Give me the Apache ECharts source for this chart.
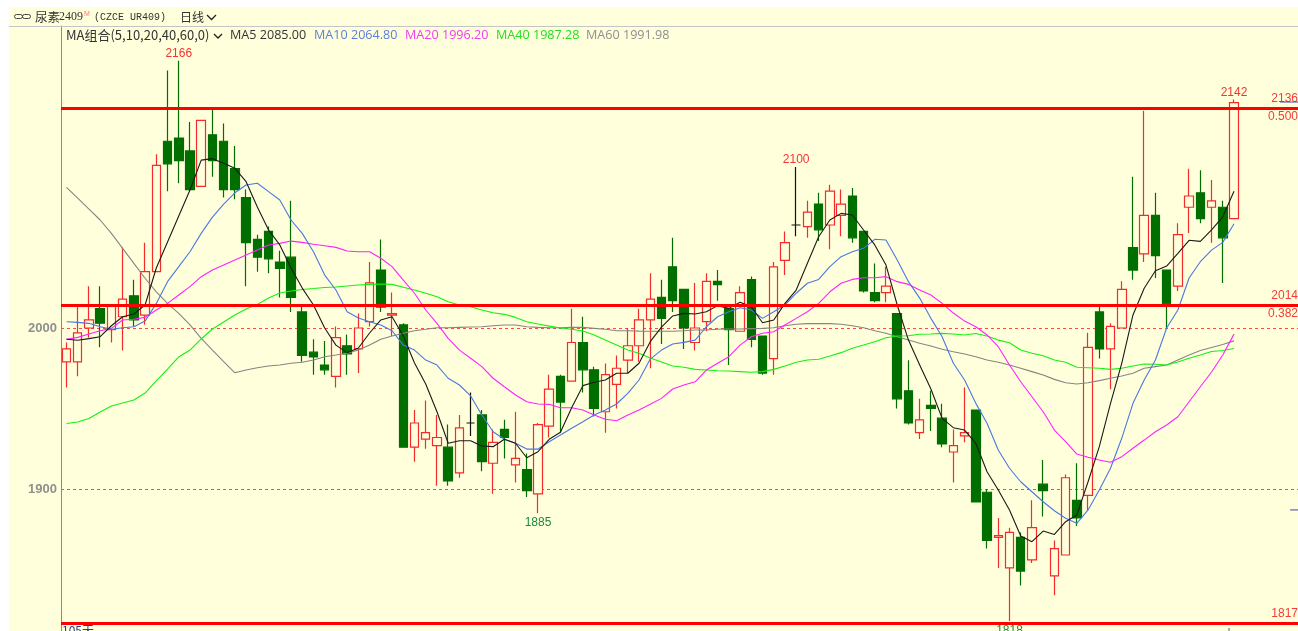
<!DOCTYPE html>
<html>
<head>
<meta charset="utf-8">
<title>尿素2409</title>
<style>
  html,body{margin:0;padding:0;background:#fff;}
  #kline{width:1298px;height:631px;}
</style>
<script src="https://cdn.jsdelivr.net/npm/echarts@6/dist/echarts.min.js"></script>
</head>
<body>
<div id="kline"></div>
<script>
var opens = [1979,1979,2000,2012,1999,2007,2020,2008,2035,2116,
  2118,2110,2088,2120,2116,2099,2081,2055,2060,2041,
  2044,2010,1985,1977,1970,1989,1987,2004,2036,2008,
  2002,1926,1931,1927,1926,1910,1941,1946,1916,1937,
  1915,1912,1897,1939,1970,1967,1991,1974,1948,1965,
  1980,1989,2005,2019,2038,2024,1991,2004,2029,2012,
  1998,2030,1995,1981,2042,2064,2063,2077,2064,2070,
  2082,2060,2022,2022,2009,1961,1935,1952,1944,1923,
  1933,1949,1898,1870,1851,1870,1856,1903,1846,1859,
  1893,1896,2010,1987,2000,2050,2046,2070,2036,2026,
  2075,2084,2075,2075,2068];
var closes = [1987,1997,2005,2003,2014,2018,2005,2035,2101,2102,
  2104,2086,2129,2104,2086,2086,2053,2044,2043,2037,
  2019,1983,1982,1974,1994,1984,2000,2028,2013,2009,
  1926,1941,1935,1932,1905,1938,1941,1917,1929,1932,
  1919,1899,1940,1962,1954,1991,1974,1950,1971,1975,
  1989,2005,2018,2006,2017,2000,2000,2029,2027,1999,
  2022,1993,1972,2038,2053,2064,2072,2061,2085,2077,
  2056,2023,2017,2026,1956,1941,1943,1950,1928,1927,
  1935,1892,1868,1871,1873,1849,1876,1899,1863,1907,
  1882,1988,1987,2001,2024,2036,2070,2045,2015,2058,
  2082,2068,2079,2056,2140];
var lows = [1963,1970,1994,1988,1991,1986,2001,2002,2035,2085,
  2090,2085,2088,2094,2081,2080,2026,2035,2034,2019,
  2010,1979,1971,1971,1963,1971,1972,2001,2010,1995,
  1926,1917,1925,1902,1902,1907,1933,1911,1897,1919,
  1904,1895,1885,1932,1935,1967,1960,1945,1935,1950,
  1972,1979,1975,1990,2010,1987,1986,1998,2017,1977,
  1998,1988,1971,1971,2033,2057,2056,2054,2049,2057,
  2053,2022,2016,2016,1950,1940,1931,1936,1926,1904,
  1929,1892,1863,1851,1818,1840,1854,1883,1834,1859,
  1877,1887,1981,1962,2000,2030,2041,2031,2000,2023,
  2059,2065,2053,2028,2068];
var highs = [1991,2014,2026,2026,2014,2050,2030,2053,2108,2160,
  2166,2128,2129,2136,2127,2113,2086,2058,2063,2048,
  2079,2014,1993,1992,2001,1996,2009,2041,2055,2022,
  2003,1949,1955,1946,1940,1946,1960,1949,1937,1943,
  1948,1922,1941,1971,1971,2012,2007,1976,1978,1983,
  2000,2012,2034,2030,2056,2024,2028,2034,2036,2012,
  2026,2032,1995,2041,2060,2100,2079,2084,2089,2086,
  2087,2060,2040,2038,2009,1980,1956,1961,1953,1937,
  1963,1949,1900,1882,1876,1873,1893,1918,1868,1909,
  1916,1997,2014,2003,2029,2094,2135,2084,2036,2065,
  2099,2098,2092,2079,2142];

var ma5 = [1993,1992.4,1993.4,1994.6,2001.4,2007,2008.7,2014.3,2037.3,2053.4,
  2069.6,2085.7,2104.3,2105.2,2102.3,2099.2,2090.9,2075.2,2060.9,2051.6,
  2037.3,2024.8,2014.3,2000,1989.4,1984.7,1987.6,1996.9,2005,2007,
  1995,1978.3,1965.2,1948,1928.4,1930,1930,1926.7,1926.3,1930.9,
  1928.4,1919.4,1923.2,1930.9,1935.2,1950.5,1964.2,1966.3,1967.7,1971.9,
  1971.9,1978.1,1991.5,2000.6,2007.5,2009.1,2008.7,2010.1,2013.9,2012.2,
  2016,2013.2,2003.3,2005,2015.3,2023.6,2040.2,2056.7,2067.1,2071.2,
  2070.2,2060.9,2051.6,2039.1,2014.3,1992.5,1977,1962.1,1943.9,1938.1,
  1936.6,1928.4,1910.7,1899.4,1887,1870.8,1867.3,1873.9,1871.8,1879.7,
  1883.9,1904.5,1926.3,1953.2,1978.1,2008.1,2024.7,2035.6,2038.5,2046.4,
  2054.5,2053.8,2060.9,2069.1,2085];
var ma10 = [2003.9,2003.5,2002.9,2000.8,1999.2,2000.2,2000.8,2004.3,2015.3,2028.8,
  2038.1,2047.4,2058.8,2068.9,2077,2084,2088.8,2089.9,2084.7,2079.5,
  2067.1,2058.8,2047.4,2032.9,2023.6,2010.1,2006.2,2003.9,2001.9,1998.3,
  1989.4,1986.3,1980.1,1977,1968.8,1964.6,1957.8,1946,1935.6,1930.9,
  1928.4,1924.8,1924.8,1929.4,1933.5,1937.7,1941.8,1946,1949.1,1952.8,
  1959.4,1967.7,1980.7,1986.3,1990.1,1991.1,1992.5,2000.8,2007,2010.1,
  2012.6,2011.2,2006,2010.1,2014.3,2021.6,2027.8,2030.2,2038.1,2044.3,
  2047.4,2049.5,2055.1,2054.7,2042.2,2028.8,2018.6,2006,1994.6,1978.1,
  1967.7,1953.2,1940.8,1924.2,1912.9,1904.5,1898.3,1892.1,1886.5,1881.8,
  1878.7,1887,1899.4,1912.9,1931.5,1953.2,1967.7,1980.1,2000,2011.2,
  2031.1,2041.2,2048.4,2053.2,2064.8];
var ma20 = [1993,1994.2,1996.3,1998.3,1999.8,2005,2005.4,2006.6,2011.2,2015.3,
  2020.5,2025.7,2031.9,2036,2039.1,2042.2,2045.3,2048.4,2051.6,2052.6,
  2054,2053.2,2052,2051.1,2050.1,2047.8,2047.4,2047.4,2043.3,2038.1,
  2029.8,2021.6,2011.2,2002.9,1993.6,1986.3,1981.2,1976,1968.8,1963.5,
  1958.4,1954.2,1952.8,1952.6,1950.5,1950.5,1949.1,1946,1943.3,1942.4,
  1946,1949.1,1952.6,1956.3,1962.1,1964.6,1966.6,1973.9,1978.1,1982.2,
  1989.4,1994.6,1996.7,1997.7,2001.9,2006,2010.1,2015.3,2022.5,2027.8,
  2030.2,2031.2,2031.2,2031.9,2028.8,2027.1,2023.6,2020.5,2015.3,2009.3,
  2004.3,2000.8,1995.7,1988.4,1977,1966.6,1957.3,1948,1936.6,1929.4,
  1921.7,1919.7,1918,1916.6,1920.1,1925.3,1930.4,1935.6,1939.8,1944.9,
  1954.2,1963.5,1972.7,1983.2,1996.2];
var ma40 = [1940.7,1941.6,1943.8,1947.8,1951.6,1953.4,1955.3,1959.6,1967.1,1974.5,
  1982,1986.3,1993.2,1999.4,2003.7,2008.1,2011.8,2014.6,2018.6,2021.7,
  2023,2023.9,2024.5,2025.2,2025.5,2026.1,2026.7,2027.1,2027.3,2027.1,
  2025.3,2023.6,2021.6,2019.4,2016.3,2014.3,2013.2,2011.2,2009.5,2008.5,
  2006.6,2003.9,2002.5,2001.2,2000,1999.2,1998.1,1995.7,1992.5,1989.4,
  1986.3,1984.3,1981.4,1978.9,1976.4,1975.6,1974.3,1973.9,1973.5,1973.3,
  1972.9,1972.5,1972.9,1974.3,1976.4,1978.7,1980.1,1980.6,1982.6,1984.7,
  1987.4,1989.4,1991.5,1994,1995,1995.2,1996.1,1996.3,1996.7,1996.3,
  1995.7,1996.6,1995,1992.5,1990.9,1986.3,1984.3,1982.8,1980.1,1978.7,
  1975.6,1975.3,1975,1974.3,1975,1976.4,1977.6,1977.5,1977,1978.9,
  1981.2,1983.2,1985.4,1986,1987.3];
var ma60 = [2087.4,2080.7,2073.9,2067.1,2058.8,2049.5,2040.2,2030.9,2022.5,2015.3,
  2009.1,2001.9,1993.6,1986.3,1979.1,1972.2,1973.9,1975.3,1976.4,1977,
  1978.1,1978.7,1980.1,1982.2,1983.2,1984.3,1986.3,1989.4,1993,1995,
  1996.7,1998.3,1999.2,2000.2,2000.2,2000.4,2000.6,2000.8,2001.4,2001.9,
  2001.9,2000.8,2000.4,2000.2,2000.2,2000.4,2000.4,1999.8,1999.2,1998.3,
  1998.3,1998.1,1998,1998,1998,1998.3,1998.8,1998.8,1999.2,1999.4,
  1999.4,1999.6,1999.8,2000.2,2001.4,2002.3,2002.7,2002.7,2002.7,2002.3,
  2001.4,2000.2,1998.3,1996.7,1994.6,1992.5,1990.5,1988.8,1986.8,1985.3,
  1983.9,1982.2,1980.1,1978.7,1977,1975,1972.9,1970.8,1968.1,1966,
  1965.2,1966,1967.3,1968.8,1970.2,1971.9,1975,1976,1977,1980.1,
  1983.2,1986,1987.9,1989.8,1992];

var axisLabels = [1900, 2000];
var levels = [2136.7, 2014.3, 1816.8];
var levelTexts = ['2136', '2014', '1817'];
var levelRatios = ['0.500', '0.382', ''];
var peakMarks = [[10, 2166], [65, 2100], [104, 2142]];
var troughMarks = [[42, 1885], [84, 1818]];
var priceTicks = [[[108.1, 2140.4], [109.7, 2140.4]], [[109, 1887], [109.7, 1887]]];
var maTexts = ['MA5 2085.00', 'MA10 2064.80', 'MA20 1996.20', 'MA40 1987.28', 'MA60 1991.98'];

var bg = '#ffffdc';
var upRed = '#f52a2a';
var downGreen = '#006f00';
var uiFont = '"Noto Sans CJK SC","Noto Sans",sans-serif';
var maFont = '"Open Sans",sans-serif';

var candleData = [];
for (var i = 0; i < opens.length; i++) {
  candleData.push([i, opens[i], closes[i], lows[i], highs[i]]);
}
function withIndex(arr) {
  return arr.map(function (v, i) { return [i, v]; });
}
function maSeries(name, arr, color) {
  return {
    name: name, type: 'line', data: withIndex(arr), symbol: 'none', z: 3,
    lineStyle: { color: color, width: 1.1 }, silent: true
  };
}
function peakPoint(p) {
  return { coord: p, value: p[1], label: { position: 'top', distance: 1, color: '#f53333' } };
}
function troughPoint(p) {
  return { coord: p, value: p[1], label: { position: 'bottom', distance: 4, color: '#1c8a3c' } };
}

// horizontal level lines and their right hand labels
var levelLines = [];
levels.forEach(function (v, i) {
  levelLines.push({ yAxis: v, label: { formatter: levelTexts[i], position: 'insideEndTop' } });
  if (levelRatios[i]) {
    levelLines.push({ yAxis: v, label: { formatter: levelRatios[i], position: 'insideEndBottom' } });
  }
});

function txt(x, y, s, color, font, size) {
  return { type: 'text', x: x, y: y, silent: true, z: 20,
    style: { text: s, fill: color, fontFamily: font || uiFont, fontSize: size || 12, textVerticalAlign: 'middle' } };
}
function chevron(x, y, w) {
  return { type: 'polyline', silent: true, z: 20,
    shape: { points: [[x, y], [x + w / 2, y + w / 2], [x + w, y]] },
    style: { stroke: '#222', lineWidth: 1.3, fill: 'none' } };
}

var chart = echarts.init(document.getElementById('kline'));
chart.setOption({
  animation: false,
  grid: { left: 61, right: 0, top: 26, bottom: 0 },
  xAxis: { type: 'value', min: -0.49, max: 109.7, show: false },
  yAxis: {
    type: 'value', min: 1811.8, max: 2187.6, position: 'left',
    axisLine: { show: true, onZero: false, lineStyle: { color: '#8a8a8a', width: 1 } },
    axisTick: { show: false, customValues: axisLabels },
    axisLabel: {
      customValues: axisLabels, color: '#8f8f8f', fontSize: 13, fontWeight: 'bold', margin: 4,
      fontFamily: '"Liberation Sans",sans-serif',
      formatter: function (v) { return String(v); }
    },
    splitLine: { show: true, lineStyle: { color: '#ff4a4a', width: 1, type: [3, 3] } }
  },
  graphic: [
    { type: 'rect', silent: true, z: -1, shape: { x: 9, y: 7, width: 1289, height: 624 }, style: { fill: bg } },
    { type: 'line', silent: true, z: 20, shape: { x1: 9, y1: 26.5, x2: 1298, y2: 26.5 }, style: { stroke: '#c4c4c4', lineWidth: 1 } },
    { type: 'rect', silent: true, z: 20, shape: { x: 14.5, y: 14.5, width: 8, height: 4, r: 2 }, style: { stroke: '#444', fill: 'none', lineWidth: 1 } },
    { type: 'rect', silent: true, z: 20, shape: { x: 22.5, y: 14.5, width: 8, height: 4, r: 2 }, style: { stroke: '#444', fill: 'none', lineWidth: 1 } },
    txt(35, 17, '尿素', '#333', uiFont, 12.5),
    txt(59, 17, '2409', '#333', '"Liberation Serif",serif', 12),
    txt(84, 14, 'M', '#ff7a7a', '"Liberation Sans",sans-serif', 7),
    txt(94, 17, '(CZCE UR409)', '#333', '"Liberation Mono",monospace', 10),
    txt(180, 17, '日线', '#333', uiFont, 12),
    chevron(207, 15, 9),
    txt(66, 35, 'MA组合(5,10,20,40,60,0)', '#333', uiFont, 13),
    chevron(214, 34, 8),
    txt(230, 35, maTexts[0], '#333', maFont, 12.6),
    txt(314, 35, maTexts[1], '#5b7fdc', maFont, 12.6),
    txt(405, 35, maTexts[2], '#f23cf2', maFont, 12.6),
    txt(496, 35, maTexts[3], '#22e022', maFont, 12.6),
    txt(586, 35, maTexts[4], '#8f8f8f', maFont, 12.6),
    txt(62, 630, '105天', '#2b3a9c', uiFont, 12),
    { type: 'rect', silent: true, z: 20, shape: { x: 1228, y: 628, width: 2, height: 3 }, style: { fill: '#aaa' } }
  ],
  series: [
    {
      name: '尿素2409', type: 'candlestick', data: candleData, barWidth: 9, z: 2, silent: true,
      itemStyle: {
        color: bg, color0: downGreen, borderColor: upRed, borderColor0: downGreen,
        borderColorDoji: '#111', borderWidth: 1.2
      },
      markPoint: {
        symbol: 'circle', symbolSize: 0, silent: true,
        label: { show: true, fontSize: 12, fontFamily: '"Liberation Sans",sans-serif' },
        data: peakMarks.map(peakPoint).concat(troughMarks.map(troughPoint))
      }
    },
    maSeries('MA60', ma60, '#858585'),
    maSeries('MA40', ma40, '#14f014'),
    maSeries('MA20', ma20, '#ff22ff'),
    maSeries('MA10', ma10, '#4a78e0'),
    maSeries('MA5', ma5, '#1a1a1a'),
    {
      name: 'levels', type: 'line', data: [], z: 5, silent: true,
      markLine: {
        silent: true, symbol: 'none', animation: false,
        lineStyle: { color: '#ff0000', width: 3, type: 'solid' },
        label: { color: '#f53b3b', fontSize: 12, distance: [0, 3], fontFamily: '"Liberation Sans",sans-serif' },
        data: levelLines
      }
    },
    {
      name: 'lastTick', type: 'line', data: priceTicks[0], symbol: 'none', z: 6, silent: true,
      lineStyle: { color: '#3a46a8', width: 1 }
    },
    {
      name: 'bidTick', type: 'line', data: priceTicks[1], symbol: 'none', z: 6, silent: true,
      lineStyle: { color: '#3a46a8', width: 1 }
    }
  ]
});
</script>
</body>
</html>
